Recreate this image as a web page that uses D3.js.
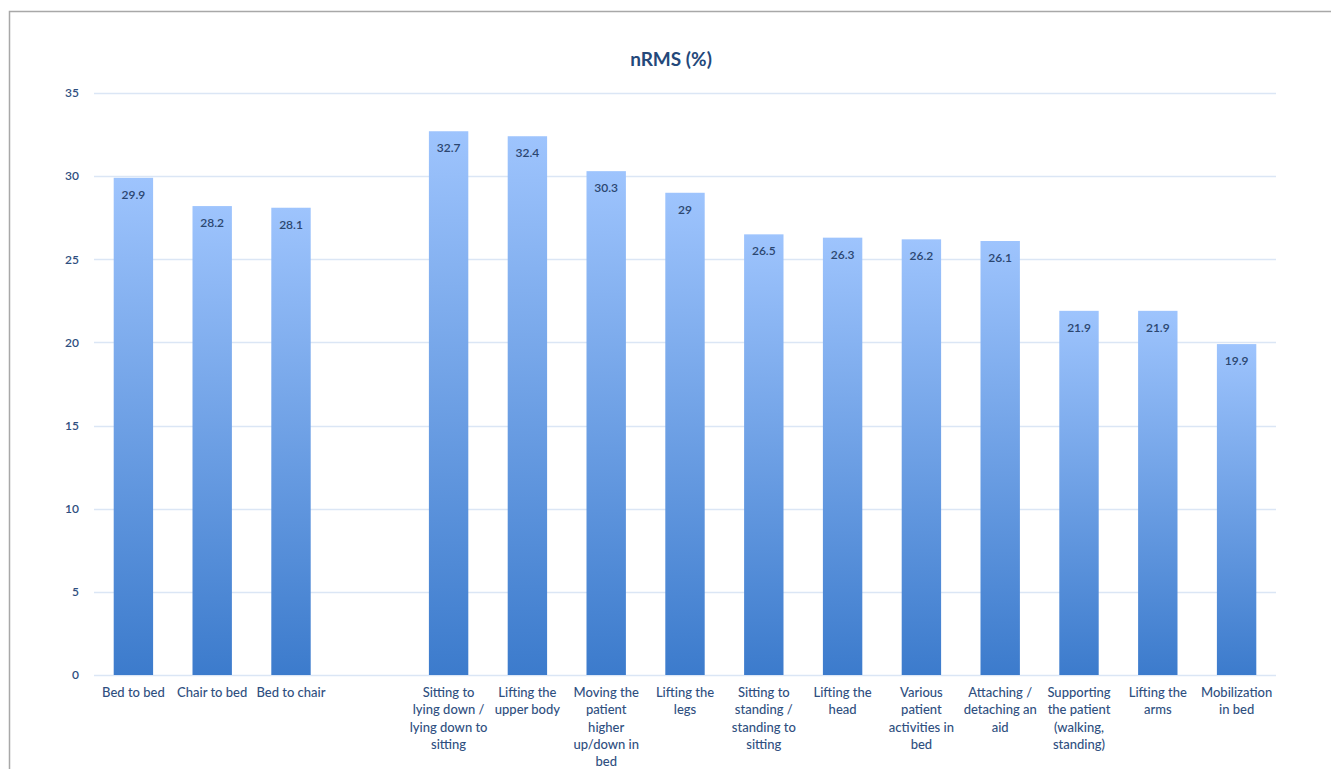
<!DOCTYPE html>
<html><head><meta charset="utf-8">
<script src="https://cdn.jsdelivr.net/npm/d3@7"></script>
<style>body{margin:0;background:#fff;} svg{display:block;}</style>
</head><body>
<svg id="chart" width="1331" height="769"></svg>
<script>
const categories = [
  "Bed to bed", "Chair to bed", "Bed to chair", "",
  "Sitting to\nlying down /\nlying down to\nsitting",
  "Lifting the\nupper body",
  "Moving the\npatient\nhigher\nup/down in\nbed",
  "Lifting the\nlegs",
  "Sitting to\nstanding /\nstanding to\nsitting",
  "Lifting the\nhead",
  "Various\npatient\nactivities in\nbed",
  "Attaching /\ndetaching an\naid",
  "Supporting\nthe patient\n(walking,\nstanding)",
  "Lifting the\narms",
  "Mobilization\nin bed"
];
const values = [29.9, 28.2, 28.1, null, 32.7, 32.4, 30.3, 29, 26.5, 26.3, 26.2, 26.1, 21.9, 21.9, 19.9];
const yTicks = [0, 5, 10, 15, 20, 25, 30, 35];
const title = "nRMS (%)";

const svg = d3.select("#chart");
const font = "Lato, 'Open Sans', sans-serif";
const textColor = "#2f4f7f";

// frame
svg.append("rect").attr("x", 9.5).attr("y", 11.5).attr("width", 1400).attr("height", 900)
  .attr("fill", "none").attr("stroke", "#a8a8a8").attr("stroke-width", 1.5);

const pLeft = 94, pRight = 1276, pTop = 93, pBottom = 675;
const keys = categories.map((c, i) => i);
const x = d3.scaleBand().domain(keys).range([pLeft, pRight]).paddingInner(0.5).paddingOuter(0.25);
const y = d3.scaleLinear().domain([0, 35]).range([pBottom, pTop]);

const defs = svg.append("defs");
const grad = defs.append("linearGradient").attr("id", "barGrad")
  .attr("x1", 0).attr("y1", 0).attr("x2", 0).attr("y2", 1);
grad.append("stop").attr("offset", "0%").attr("stop-color", "#9ec4fd");
grad.append("stop").attr("offset", "100%").attr("stop-color", "#3c7bcc");

// gridlines
svg.append("g").selectAll("line").data(yTicks).join("line")
  .attr("x1", pLeft).attr("x2", pRight)
  .attr("y1", d => Math.round(y(d)) + 0.5).attr("y2", d => Math.round(y(d)) + 0.5)
  .attr("stroke", "#dbe6f5").attr("stroke-width", 1.5);

// y axis labels
const yAxis = d3.axisLeft(y).tickValues(yTicks).tickSize(0).tickPadding(0);
const gy = svg.append("g").attr("transform", `translate(79,0)`).call(yAxis);
gy.select(".domain").remove();
gy.selectAll("text").attr("font-family", font).attr("font-size", 12).attr("font-weight", 600)
  .attr("fill", textColor);

// bars
const barData = keys.filter(i => values[i] != null);
svg.append("g").selectAll("rect").data(barData).join("rect")
  .attr("x", i => x(i)).attr("width", x.bandwidth())
  .attr("y", i => y(values[i])).attr("height", i => y(0) - y(values[i]))
  .attr("fill", "url(#barGrad)");

// value labels
svg.append("g").selectAll("text").data(barData).join("text")
  .attr("x", i => x(i) + x.bandwidth() / 2).attr("y", i => y(values[i]) + 21)
  .attr("text-anchor", "middle").attr("font-family", font).attr("font-size", 12)
  .attr("font-weight", 600).attr("fill", "#2b4670").text(i => values[i]);

// category labels
const gx = svg.append("g");
keys.forEach(i => {
  if (!categories[i]) return;
  const lines = categories[i].split("\n");
  const t = gx.append("text").attr("text-anchor", "middle").attr("font-family", font)
    .attr("font-size", 13).attr("font-weight", 500).attr("fill", textColor);
  lines.forEach((l, k) => {
    t.append("tspan").attr("x", x(i) + x.bandwidth() / 2).attr("y", 697 + k * 17.3).text(l);
  });
});

// title
svg.append("text").attr("x", 671).attr("y", 66).attr("text-anchor", "middle")
  .attr("font-family", font).attr("font-size", 19).attr("font-weight", 700)
  .attr("fill", "#24487a").text(title);
</script>
</body></html>
